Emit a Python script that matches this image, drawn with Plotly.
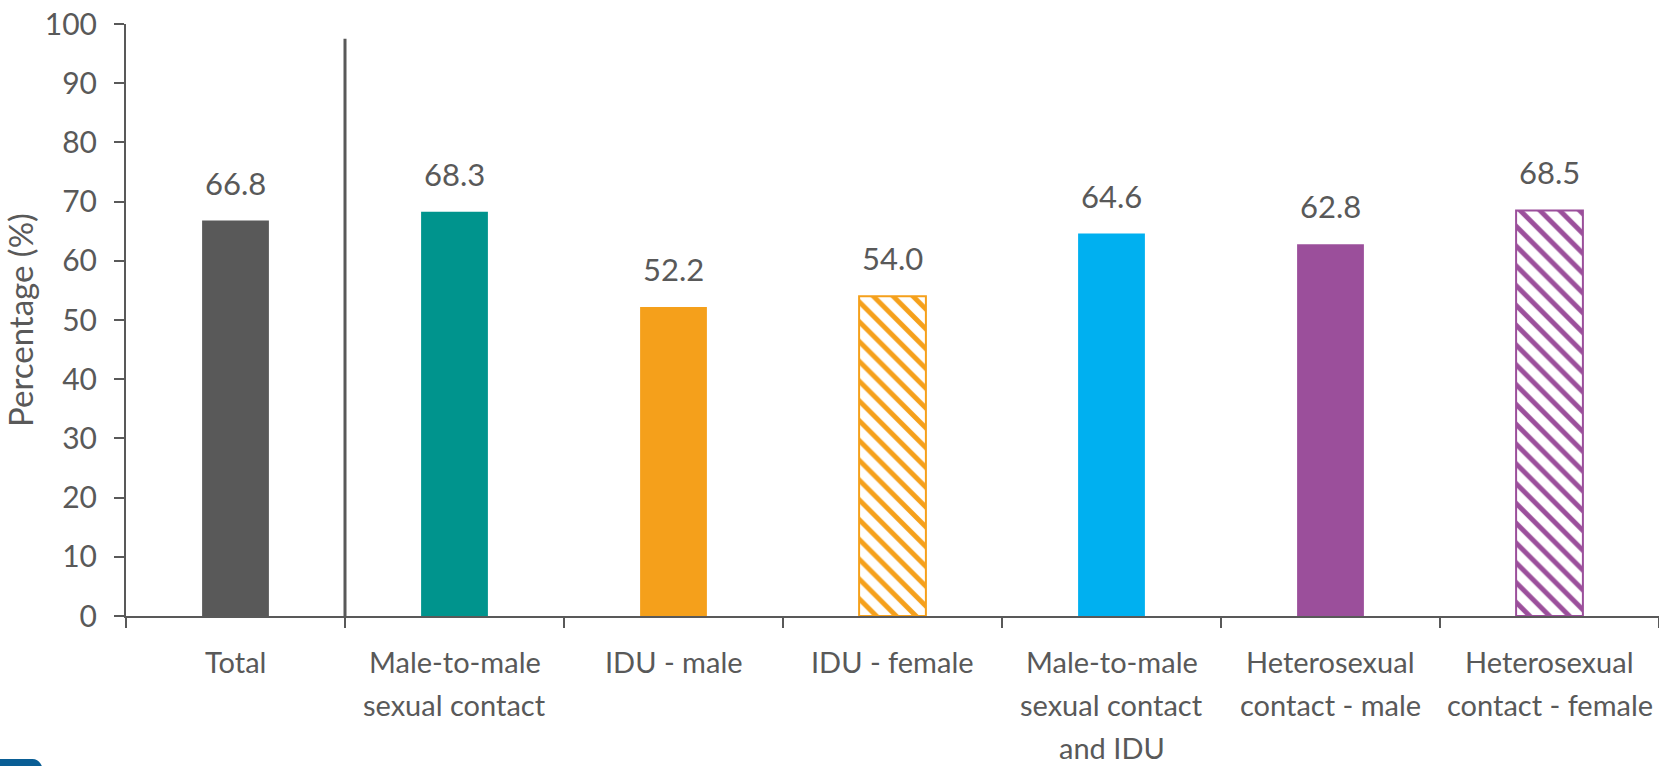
"""HIV testing percentage by exposure category."""

import plotly.graph_objects as go

categories = [
    "Total",
    "Male-to-male<br>sexual contact",
    "IDU - male",
    "IDU - female",
    "Male-to-male<br>sexual contact<br>and IDU",
    "Heterosexual<br>contact - male",
    "Heterosexual<br>contact - female",
]
values = [66.8, 68.3, 52.2, 54.0, 64.6, 62.8, 68.5]
bar_colors = ["#595959", "#00948D", "#F5A01B", "#F5A01B", "#00B0F0", "#9B4F9B", "#9B4F9B"]
hatched = [False, False, False, True, False, False, True]
y_ticks = list(range(0, 101, 10))

GREY = "#595959"
FONT = "Lato"

fig = go.Figure()

# One trace per bar so each hatched bar gets its own stripe colour
for cat, val, color, hatch in zip(categories, values, bar_colors, hatched):
    if hatch:
        marker = dict(
            color="white",
            line=dict(color=color, width=2),
            pattern=dict(
                shape="\\", fgcolor=color, bgcolor="white", fgopacity=1,
                size=14, solidity=0.35,
            ),
        )
    else:
        marker = dict(color=color, line=dict(width=0))
    fig.add_trace(
        go.Bar(
            x=[cat],
            y=[val],
            width=0.305,
            marker=marker,
            hovertemplate="%{x}: %{y:.1f}%<extra></extra>",
            showlegend=False,
        )
    )

# Value labels above each bar
for cat, val in zip(categories, values):
    fig.add_annotation(
        x=cat,
        y=val,
        text=f"{val:.1f}",
        showarrow=False,
        yanchor="bottom",
        yshift=17,
        font=dict(family=FONT, size=31, color=GREY),
    )

# Category labels drawn line by line (wider line spacing than tick labels allow)
for cat in categories:
    for j, line in enumerate(cat.split("<br>")):
        fig.add_annotation(
            x=cat,
            y=0,
            text=line,
            showarrow=False,
            yanchor="middle",
            yshift=-45 - 43 * j,
            font=dict(family=FONT, size=29, color=GREY),
        )

# Separator between Total and the exposure categories
fig.add_shape(
    type="line",
    x0=0.5,
    x1=0.5,
    y0=0,
    y1=97.5,
    xref="x",
    yref="y",
    line=dict(color=GREY, width=3),
)

# Blue corner fragment at bottom-left
fig.add_shape(
    type="path",
    xref="paper",
    yref="paper",
    path="M -0.083 -0.26 L -0.083 -0.2415 L -0.061 -0.2415 Q -0.056 -0.2415 -0.054 -0.26 Z",
    fillcolor="#0A5E95",
    line=dict(width=0),
)

fig.update_layout(
    width=1659,
    height=766,
    margin=dict(l=126, r=0, t=24, b=150),
    plot_bgcolor="white",
    paper_bgcolor="white",
    font=dict(family=FONT, size=29, color=GREY),
    barmode="overlay",
    xaxis=dict(
        showline=True,
        linecolor=GREY,
        linewidth=2,
        ticks="outside",
        tickson="boundaries",
        ticklen=10,
        tickwidth=2,
        tickcolor=GREY,
        showgrid=False,
        showticklabels=False,
        automargin=False,
    ),
    yaxis=dict(
        range=[0, 100],
        tickvals=y_ticks,
        showline=True,
        linecolor=GREY,
        linewidth=2,
        ticks="outside",
        ticklen=10,
        tickwidth=2,
        tickcolor=GREY,
        showgrid=False,
        zeroline=False,
        automargin=False,
        ticklabelstandoff=11,
        ticklabeloverflow="allow",
        tickfont=dict(family=FONT, size=30, color=GREY),
        title=dict(text="Percentage (%)", font=dict(family=FONT, size=33, color=GREY), standoff=7),
    ),
)

# Remove the default page margin so the figure fills the window exactly
fig.write_html(
    "out.html",
    config={"displayModeBar": False},
    post_script="document.body.style.margin = '0';",
)
